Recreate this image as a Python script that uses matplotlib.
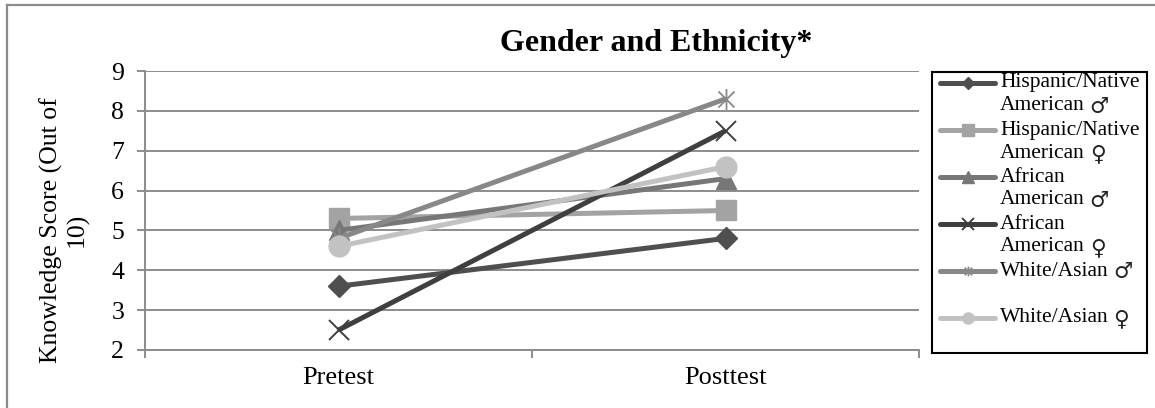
import matplotlib
matplotlib.use('Agg')
import matplotlib.pyplot as plt
from matplotlib.lines import Line2D
from matplotlib.patches import Rectangle
from matplotlib.path import Path

plt.rcParams['font.family'] = ['Liberation Serif', 'DejaVu Serif', 'DejaVu Sans']

W, H = 1155, 408

phases = ['Pretest', 'Posttest']

# mean knowledge score per group, pretest -> posttest
hisp_male = [3.6, 4.8]
hisp_female = [5.3, 5.5]
afr_male = [5.0, 6.3]
afr_female = [2.5, 7.5]
white_male = [4.8, 8.3]
white_female = [4.6, 6.6]

MALE, FEMALE = '\u2642', '\u2640'
# (first line, second line, gender sign) for each legend entry
legend_lines = [
    ('Hispanic/Native', 'American', MALE),
    ('Hispanic/Native', 'American', FEMALE),
    ('African', 'American', MALE),
    ('African', 'American', FEMALE),
    ('White/Asian', '', MALE),
    ('White/Asian', '', FEMALE),
]

# Excel style "star" marker: an X with a vertical bar through it
star = Path([(-1, -1), (1, 1), (-1, 1), (1, -1), (0, -1.3), (0, 1.3)],
            [Path.MOVETO, Path.LINETO] * 3)

styles = [
    dict(color='#4f4f4f', marker='D', ms=11, legend_ms=6),
    dict(color='#a3a3a3', marker='s', ms=14, legend_ms=8),
    dict(color='#777777', marker='^', ms=15, legend_ms=8),
    dict(color='#3f3f3f', marker='x', ms=14, mew=1.4, legend_ms=8),
    dict(color='#888888', marker=star, ms=15, mew=1.3, legend_ms=7),
    dict(color='#c2c2c2', marker='o', ms=15, legend_ms=8),
]
series = [hisp_male, hisp_female, afr_male, afr_female, white_male, white_female]


def fx(px):
    return px / W


def fy(py):
    return 1 - py / H


fig = plt.figure(figsize=(W / 100, H / 100), dpi=100)
ax = fig.add_axes([fx(145), fy(350), fx(919) - fx(145), fy(71) - fy(350)])

x = list(range(len(phases)))
for vals, st in zip(series, styles):
    ax.plot(x, vals, color=st['color'], lw=3.6, marker=st['marker'],
            ms=st['ms'], mew=st.get('mew', 1), mfc=st['color'], mec=st['color'],
            zorder=3, solid_capstyle='butt')

ax.set_xlim(-0.5, 1.5)
ax.set_ylim(2, 9)
ax.set_yticks(range(2, 10))
ax.set_xticks([-0.5, 0.5, 1.5])
ax.set_xticklabels([])
ax.set_xticks(x, minor=True)
ax.set_xticklabels(phases, minor=True)

grid_c = '#8c8c8c'
ax.yaxis.grid(True, color=grid_c, lw=1.4)
ax.set_axisbelow(True)
for s in ['top', 'right']:
    ax.spines[s].set_visible(False)
for s in ['left', 'bottom']:
    ax.spines[s].set_color(grid_c)
    ax.spines[s].set_linewidth(1.4)

ax.tick_params(axis='y', which='major', length=6, width=1.4, color=grid_c,
               labelsize=18.5, pad=9)
ax.tick_params(axis='x', which='major', length=6, width=1.4, color=grid_c)
ax.tick_params(axis='x', which='minor', length=0, labelsize=19, pad=12)

fig.text(fx(656), fy(43), 'Gender and Ethnicity*', fontsize=23,
         fontweight='bold', ha='center', va='center')
fig.text(fx(64), fy(230), 'Knowledge Score (Out of\n10)', fontsize=18.5,
         rotation=90, ha='center', va='center', multialignment='center',
         linespacing=1.15)

# outer chart frame (only the top and left edges fall inside the image)
fig.add_artist(Line2D([fx(7), 1.0], [fy(5), fy(5)], color='#8c8c8c', lw=1.6))
fig.add_artist(Line2D([fx(7), fx(7)], [fy(5), 0.0], color='#8c8c8c', lw=1.6))

# legend drawn by hand so each marker sits on the first text line
fig.add_artist(Rectangle((fx(932), fy(353)), fx(1147) - fx(932),
                         fy(72) - fy(353), transform=fig.transFigure,
                         fill=False, ec='black', lw=1.5))
renderer = fig.canvas.get_renderer()
y0, step, lead = 83, 47, 23
leg_fs = 15.5
for i, ((l1, l2, sign), st) in enumerate(zip(legend_lines, styles)):
    yy = y0 + i * step
    fig.add_artist(Line2D([fx(940), fx(995)], [fy(yy), fy(yy)],
                          color=st['color'], lw=3.6, solid_capstyle='round'))
    fig.add_artist(Line2D([fx(967.5)], [fy(yy)], marker=st['marker'],
                          ms=st['legend_ms'], color=st['color'],
                          mfc=st['color'], mec=st['color'],
                          mew=st.get('mew', 1)))
    t1 = fig.text(fx(1000), fy(yy), l1, fontsize=leg_fs, va='center', ha='left')
    last, ly = t1, yy
    if l2:
        ly = yy + lead
        last = fig.text(fx(1000), fy(ly), l2, fontsize=leg_fs, va='center',
                        ha='left')
    # gender sign after the last word, in a font that carries it at full size
    x_end = last.get_window_extent(renderer).x1
    fig.text((x_end + 5) / W, fy(ly + 1), sign, fontsize=leg_fs,
             family=['DejaVu Sans'], va='center', ha='left', color='#222222')

fig.savefig('out.png', dpi=100)
